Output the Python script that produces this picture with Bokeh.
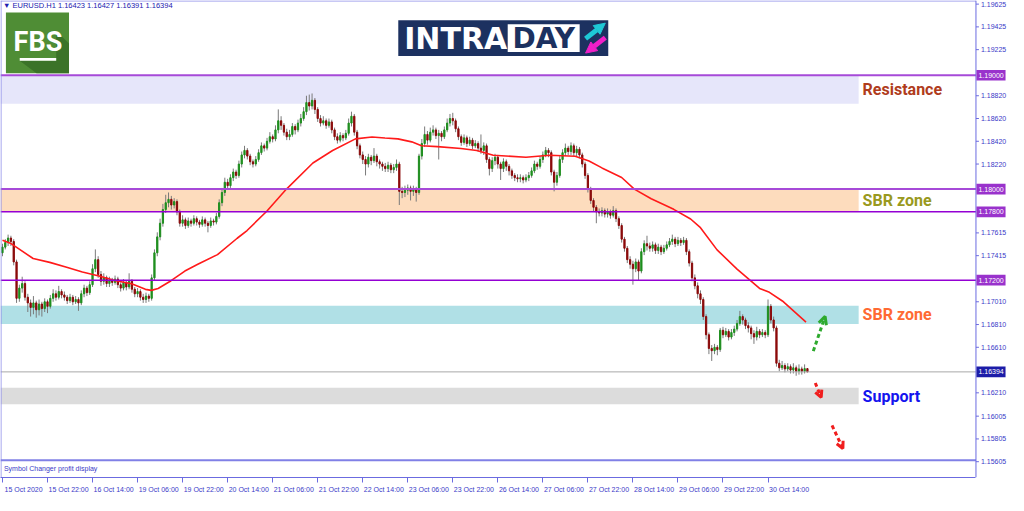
from bokeh.plotting import figure
from bokeh.models import (ColumnDataSource, FixedTicker, Range1d, Label, Arrow, OpenHead, NormalHead)
from bokeh.core.properties import value
from bokeh.embed import file_html
from bokeh.resources import INLINE

# ---------------- data ----------------
symbol = "EURUSD.H1"
header_ohlc = [1.16423, 1.16427, 1.16391, 1.16394]
first_open = 1.1744
close = [
    1.1749, 1.1753, 1.1757, 1.1754, 1.1736, 1.1704, 1.1713, 1.1717, 1.1705, 1.1700,
    1.1696, 1.1700, 1.1694, 1.1699, 1.1695, 1.1701, 1.1697, 1.1704, 1.1708, 1.1705,
    1.1710, 1.1707, 1.1705, 1.1702, 1.1705, 1.1701, 1.1703, 1.1700, 1.1708, 1.1713,
    1.1709, 1.1716, 1.1730, 1.1738, 1.1725, 1.1719, 1.1722, 1.1717, 1.1720, 1.1718,
    1.1721, 1.1716, 1.1713, 1.1718, 1.1714, 1.1719, 1.1712, 1.1708, 1.1710, 1.1705,
    1.1703, 1.1706, 1.1704, 1.1722, 1.1744, 1.1758, 1.1770, 1.1782, 1.1788, 1.1791,
    1.1786, 1.1789, 1.1780, 1.1770, 1.1773, 1.1768, 1.1772, 1.1770, 1.1774, 1.1771,
    1.1769, 1.1773, 1.1770, 1.1768, 1.1772, 1.1771, 1.1776, 1.1788, 1.1797, 1.1806,
    1.1803, 1.1810, 1.1815, 1.1812, 1.1822, 1.1830, 1.1834, 1.1829, 1.1824, 1.1822,
    1.1826, 1.1832, 1.1838, 1.1836, 1.1842, 1.1846, 1.1844, 1.1852, 1.1860, 1.1856,
    1.1850, 1.1846, 1.1848, 1.1855, 1.1852, 1.1858, 1.1862, 1.1868, 1.1876, 1.1873,
    1.1878, 1.1870, 1.1862, 1.1858, 1.1860, 1.1856, 1.1859, 1.1852, 1.1846, 1.1843,
    1.1847, 1.1845, 1.1849, 1.1858, 1.1864, 1.1850, 1.1838, 1.1830, 1.1826, 1.1822,
    1.1828, 1.1825, 1.1829, 1.1824, 1.1822, 1.1820, 1.1818, 1.1821, 1.1817, 1.1819,
    1.1822, 1.1798, 1.1797, 1.1799, 1.1801, 1.1798, 1.1800, 1.1797, 1.1829, 1.1840,
    1.1848, 1.1843, 1.1850, 1.1852, 1.1847, 1.1849, 1.1846, 1.1852, 1.1858, 1.1862,
    1.1860, 1.1853, 1.1846, 1.1841, 1.1845, 1.1840, 1.1843, 1.1838, 1.1840, 1.1836,
    1.1834, 1.1838, 1.1826, 1.1818, 1.1825, 1.1828, 1.1822, 1.1818, 1.1824, 1.1820,
    1.1816, 1.1812, 1.1810, 1.1809, 1.1810, 1.1808, 1.1810, 1.1812, 1.1816, 1.1822,
    1.1820, 1.1826, 1.1830, 1.1834, 1.1832, 1.1815, 1.1806, 1.1812, 1.1826, 1.1832,
    1.1836, 1.1833, 1.1838, 1.1832, 1.1835, 1.1830, 1.1822, 1.1812, 1.1800, 1.1790,
    1.1784, 1.1780, 1.1779, 1.1781, 1.1778, 1.1780, 1.1777, 1.1781, 1.1774, 1.1768,
    1.1756, 1.1748, 1.1738, 1.1734, 1.1730, 1.1736, 1.1728, 1.1745, 1.1752, 1.1750,
    1.1748, 1.1751, 1.1746, 1.1749, 1.1745, 1.1748, 1.1751, 1.1754, 1.1756, 1.1752,
    1.1755, 1.1753, 1.1755, 1.1745, 1.1735, 1.1722, 1.1715, 1.1708, 1.1703, 1.1688,
    1.1672, 1.1660, 1.1658, 1.1661, 1.1659, 1.1676, 1.1672, 1.1675, 1.1670, 1.1674,
    1.1677, 1.1682, 1.1688, 1.1685, 1.1680, 1.1678, 1.1673, 1.1670, 1.1675, 1.1672,
    1.1674, 1.1672, 1.1697, 1.1685, 1.1678, 1.1647, 1.1643, 1.1645, 1.1642, 1.1644,
    1.1641, 1.1643, 1.1640, 1.1642, 1.1640, 1.16423, 1.16394,
]
high = [
    1.1752, 1.1756, 1.1760, 1.1759, 1.1756, 1.1738, 1.1716, 1.1723, 1.1719, 1.1708,
    1.1703, 1.1706, 1.1702, 1.1703, 1.1701, 1.1704, 1.1703, 1.1707, 1.1712, 1.1711,
    1.1715, 1.1712, 1.1710, 1.1707, 1.1708, 1.1707, 1.1706, 1.1705, 1.1711, 1.1716,
    1.1715, 1.1719, 1.1734, 1.1747, 1.1741, 1.1728, 1.1726, 1.1724, 1.1723, 1.1722,
    1.1724, 1.1723, 1.1718, 1.1721, 1.1720, 1.1726, 1.1721, 1.1714, 1.1713, 1.1712,
    1.1708, 1.1709, 1.1708, 1.1725, 1.1747, 1.1762, 1.1774, 1.1787, 1.1795, 1.1797,
    1.1794, 1.1792, 1.1791, 1.1782, 1.1777, 1.1775, 1.1775, 1.1774, 1.1777, 1.1776,
    1.1773, 1.1776, 1.1775, 1.1772, 1.1775, 1.1774, 1.1779, 1.1791, 1.1801, 1.1810,
    1.1809, 1.1813, 1.1818, 1.1817, 1.1825, 1.1833, 1.1838, 1.1836, 1.1831, 1.1826,
    1.1829, 1.1835, 1.1841, 1.1840, 1.1845, 1.1850, 1.1848, 1.1856, 1.1870, 1.1864,
    1.1858, 1.1853, 1.1852, 1.1858, 1.1857, 1.1861, 1.1866, 1.1872, 1.1882, 1.1883,
    1.1884, 1.1880, 1.1872, 1.1865, 1.1864, 1.1862, 1.1862, 1.1861, 1.1854, 1.1849,
    1.1850, 1.1849, 1.1852, 1.1862, 1.1868, 1.1866, 1.1852, 1.1840, 1.1833, 1.1829,
    1.1831, 1.1830, 1.1836, 1.1831, 1.1826, 1.1824, 1.1823, 1.1824, 1.1823, 1.1822,
    1.1826, 1.1824, 1.1802, 1.1803, 1.1804, 1.1803, 1.1803, 1.1802, 1.1831, 1.1844,
    1.1855, 1.1851, 1.1854, 1.1856, 1.1854, 1.1852, 1.1851, 1.1855, 1.1862, 1.1866,
    1.1867, 1.1862, 1.1855, 1.1848, 1.1848, 1.1847, 1.1846, 1.1845, 1.1843, 1.1842,
    1.1848, 1.1841, 1.1840, 1.1828, 1.1828, 1.1831, 1.1830, 1.1824, 1.1827, 1.1826,
    1.1822, 1.1818, 1.1814, 1.1813, 1.1813, 1.1812, 1.1813, 1.1815, 1.1819, 1.1825,
    1.1824, 1.1829, 1.1833, 1.1837, 1.1836, 1.1834, 1.1817, 1.1815, 1.1829, 1.1835,
    1.1840, 1.1838, 1.1841, 1.1840, 1.1838, 1.1837, 1.1832, 1.1824, 1.1814, 1.1802,
    1.1792, 1.1786, 1.1783, 1.1784, 1.1783, 1.1783, 1.1782, 1.1785, 1.1783, 1.1776,
    1.1770, 1.1758, 1.1750, 1.1741, 1.1737, 1.1739, 1.1738, 1.1748, 1.1755, 1.1759,
    1.1753, 1.1754, 1.1753, 1.1752, 1.1751, 1.1751, 1.1754, 1.1757, 1.1760, 1.1758,
    1.1758, 1.1757, 1.1758, 1.1757, 1.1747, 1.1737, 1.1725, 1.1718, 1.1711, 1.1705,
    1.1690, 1.1674, 1.1663, 1.1664, 1.1663, 1.1678, 1.1679, 1.1678, 1.1677, 1.1677,
    1.1680, 1.1685, 1.1693, 1.1690, 1.1687, 1.1683, 1.1680, 1.1676, 1.1679, 1.1677,
    1.1677, 1.1676, 1.1703, 1.1699, 1.1688, 1.1680, 1.1650, 1.1649, 1.1647, 1.1647,
    1.1646, 1.1647, 1.1645, 1.1646, 1.1644, 1.1646, 1.16427,
]
low = [
    1.1741, 1.1747, 1.1750, 1.1750, 1.1733, 1.1700, 1.1701, 1.1709, 1.1702, 1.1692,
    1.1688, 1.1690, 1.1687, 1.1689, 1.1688, 1.1692, 1.1691, 1.1695, 1.1701, 1.1702,
    1.1703, 1.1704, 1.1702, 1.1699, 1.1700, 1.1698, 1.1699, 1.1693, 1.1698, 1.1705,
    1.1706, 1.1707, 1.1714, 1.1727, 1.1722, 1.1715, 1.1716, 1.1714, 1.1714, 1.1715,
    1.1716, 1.1713, 1.1710, 1.1711, 1.1711, 1.1712, 1.1709, 1.1705, 1.1705, 1.1702,
    1.1700, 1.1700, 1.1701, 1.1702, 1.1720, 1.1741, 1.1755, 1.1767, 1.1779, 1.1784,
    1.1782, 1.1783, 1.1777, 1.1767, 1.1767, 1.1765, 1.1766, 1.1767, 1.1768, 1.1768,
    1.1766, 1.1767, 1.1767, 1.1762, 1.1766, 1.1768, 1.1769, 1.1774, 1.1785, 1.1794,
    1.1800, 1.1801, 1.1807, 1.1809, 1.1810, 1.1819, 1.1827, 1.1826, 1.1821, 1.1819,
    1.1820, 1.1824, 1.1830, 1.1833, 1.1834, 1.1840, 1.1841, 1.1842, 1.1849, 1.1852,
    1.1847, 1.1843, 1.1843, 1.1846, 1.1848, 1.1850, 1.1855, 1.1860, 1.1865, 1.1869,
    1.1870, 1.1866, 1.1859, 1.1855, 1.1856, 1.1853, 1.1854, 1.1849, 1.1843, 1.1840,
    1.1841, 1.1842, 1.1843, 1.1847, 1.1855, 1.1847, 1.1835, 1.1827, 1.1822, 1.1812,
    1.1819, 1.1821, 1.1823, 1.1820, 1.1818, 1.1816, 1.1815, 1.1815, 1.1814, 1.1814,
    1.1816, 1.1786, 1.1792, 1.1793, 1.1795, 1.1790, 1.1794, 1.1789, 1.1795, 1.1826,
    1.1837, 1.1839, 1.1841, 1.1847, 1.1844, 1.1826, 1.1842, 1.1844, 1.1850, 1.1855,
    1.1856, 1.1850, 1.1843, 1.1838, 1.1839, 1.1837, 1.1838, 1.1835, 1.1836, 1.1833,
    1.1831, 1.1830, 1.1823, 1.1812, 1.1815, 1.1821, 1.1818, 1.1808, 1.1815, 1.1816,
    1.1812, 1.1809, 1.1807, 1.1806, 1.1806, 1.1805, 1.1806, 1.1807, 1.1810, 1.1814,
    1.1817, 1.1818, 1.1823, 1.1828, 1.1828, 1.1812, 1.1798, 1.1803, 1.1810, 1.1823,
    1.1829, 1.1830, 1.1830, 1.1829, 1.1829, 1.1827, 1.1819, 1.1809, 1.1797, 1.1787,
    1.1780, 1.1770, 1.1776, 1.1776, 1.1775, 1.1775, 1.1774, 1.1775, 1.1771, 1.1765,
    1.1753, 1.1745, 1.1735, 1.1730, 1.1716, 1.1727, 1.1720, 1.1726, 1.1742, 1.1746,
    1.1745, 1.1745, 1.1743, 1.1743, 1.1742, 1.1743, 1.1746, 1.1749, 1.1751, 1.1749,
    1.1750, 1.1750, 1.1751, 1.1742, 1.1732, 1.1719, 1.1712, 1.1704, 1.1699, 1.1685,
    1.1668, 1.1655, 1.1649, 1.1655, 1.1654, 1.1657, 1.1669, 1.1670, 1.1667, 1.1668,
    1.1671, 1.1675, 1.1680, 1.1681, 1.1677, 1.1674, 1.1668, 1.1664, 1.1667, 1.1669,
    1.1670, 1.1669, 1.1670, 1.1682, 1.1675, 1.1644, 1.1640, 1.1641, 1.1639, 1.1640,
    1.1638, 1.1638, 1.1636, 1.1637, 1.1637, 1.1638, 1.16391,
]
# moving average (bar index, price)
ma_bar = [0, 2.8, 10.9, 16.8, 22.8, 28.4, 34.3, 40.3, 45.9, 50.8, 52.9, 55.3, 59.9, 64.8,
          69.4, 76.4, 83.4, 86.9, 93.9, 100.9, 110.3, 117.3, 125.4, 131.3, 135.9, 140.5,
          145.4, 148.9, 154.5, 162.9, 168.5, 174.4, 186.0, 194.4, 203.5, 208.4, 213.0,
          220.0, 224.5, 230.5, 238.5, 244.5, 248.0, 253.9, 261.0, 269.0, 272.5, 277.1, 285.5]
ma_val = [1.17551, 1.17525, 1.17390, 1.17356, 1.17314, 1.17271, 1.17237, 1.17195, 1.17169,
          1.17119, 1.17110, 1.17127, 1.17195, 1.17280, 1.17339, 1.17424, 1.17568, 1.17636,
          1.17805, 1.18000, 1.18229, 1.18339, 1.18441, 1.18458, 1.18449, 1.18441, 1.18415,
          1.18381, 1.18373, 1.18356, 1.18339, 1.18297, 1.18280, 1.18297, 1.18288, 1.18246,
          1.18186, 1.18102, 1.18000, 1.17915, 1.17822, 1.17737, 1.17661, 1.17466, 1.17297,
          1.17127, 1.17093, 1.17017, 1.16831]

time_tick_bars = [0, 16, 32, 48, 64, 80, 96, 112, 128, 144, 160, 176, 192, 208, 224, 240, 256, 272]
time_labels = ["15 Oct 2020", "15 Oct 22:00", "16 Oct 14:00", "19 Oct 06:00", "19 Oct 22:00",
               "20 Oct 14:00", "21 Oct 06:00", "21 Oct 22:00", "22 Oct 14:00", "23 Oct 06:00",
               "23 Oct 22:00", "26 Oct 14:00", "27 Oct 06:00", "27 Oct 22:00", "28 Oct 14:00",
               "29 Oct 06:00", "29 Oct 22:00", "30 Oct 14:00"]
price_ticks = [1.19625, 1.19425, 1.19225, 1.18820, 1.18620, 1.18420, 1.18220, 1.17615,
               1.17415, 1.17010, 1.16810, 1.16610, 1.16210, 1.16005, 1.15805, 1.15605]
level_prices = [1.19000, 1.18000, 1.17800, 1.17200]
last_price = 1.16394
zone_names = ["Resistance", "SBR zone", "SBR zone", "Support"]
zone_low = [1.18750, 1.17800, 1.16814, 1.16110]
zone_high = [1.19000, 1.18000, 1.16975, 1.16254]

# ---------------- styles / layout ----------------
BLUE = "#6b6be0"
TXT = "#3a3ac8"
BULL = "#1f8f1f"
BEAR = "#8b0a0a"
WICK = "#7a7a7a"
FONT = "Liberation Sans"
zone_fill = ["#e6e6fa", "#fddcbd", "#b0e0e6", "#dcdcdc"]
zone_text = ["#b03c1c", "#999920", "#ff6a33", "#1414ee"]
level_color = ["#a64ad8", "#a64ad8", "#9400d3", "#9400d3"]
level_width = [2, 2, 1.5, 1.5]

BAR_PX = 2.855
def bx(px):  # reference pixel column -> bar coordinate
    return (px - 3.5) / BAR_PX
def py(px):  # reference pixel row -> price coordinate
    return 1.19 - (px - 79) / 11800.0
HALF_BOX = 5.5 / 11800.0   # half height of an axis price box

X0, X1 = bx(1.5), bx(1024)
Y0, Y1 = py(496), py(1.5)
AX = bx(991)          # price-axis line
ZR = bx(872)          # right end of the shaded zones

p = figure(width=1008, height=495, x_range=Range1d(X0, X1), y_range=Range1d(Y0, Y1),
           output_backend="svg", toolbar_location=None,
           min_border_left=0, min_border_top=0, min_border_right=0, min_border_bottom=14,
           background_fill_color="white", border_fill_color="white")
p.grid.visible = False
p.outline_line_color = None
p.yaxis.visible = False

# bottom time axis: tick marks as minor ticks, labels to their right
SHIFT = 7.5
xa = p.xaxis[0]
xa.bounds = (X0, AX)
xa.ticker = FixedTicker(ticks=[b + SHIFT for b in time_tick_bars], minor_ticks=time_tick_bars)
xa.major_label_overrides = {b + SHIFT: t for b, t in zip(time_tick_bars, time_labels)}
xa.axis_line_color = BLUE
xa.major_tick_line_color = None
xa.minor_tick_line_color = BLUE
xa.minor_tick_out = 5
xa.minor_tick_in = 0
xa.major_label_standoff = 2
xa.major_label_text_font = FONT
xa.major_label_text_font_size = "7px"
xa.major_label_text_color = TXT

# zones
p.quad(left=[X0] * 4, right=[ZR] * 4, bottom=zone_low, top=zone_high,
       fill_color=zone_fill, line_color=None)

# candles
opens = [first_open] + close[:-1]
bars = list(range(len(close)))
src = ColumnDataSource(dict(
    x=bars, h=high, l=low,
    top=[max(o, c) for o, c in zip(opens, close)],
    bot=[min(o, c) for o, c in zip(opens, close)],
    col=[BULL if c >= o else BEAR for o, c in zip(opens, close)],
))
p.segment(x0="x", y0="h", x1="x", y1="l", source=src, line_color=WICK, line_width=1)
p.vbar(x="x", width=0.45, top="top", bottom="bot", fill_color="col", line_color="col",
       line_width=1, source=src)

# moving average
p.line(ma_bar, ma_val, line_color="#ff1a1a", line_width=1.6)

# horizontal levels (up to the price axis)
nl = len(level_prices)
p.segment(x0=[X0] * nl, x1=[AX] * nl, y0=level_prices, y1=level_prices,
          line_color=level_color, line_width=level_width)
p.segment(x0=[X0], x1=[AX], y0=[last_price], y1=[last_price], line_color="#a8a8a8", line_width=1)

# window frame: left / top border, main-window bottom, sub-window
p.segment(x0=[bx(2), X0, X0], x1=[bx(2), AX, AX], y0=[Y0, py(2), py(478)],
          y1=[Y1, py(2), py(478)], line_color=["#8a8ae8", "#8a8ae8", "#8080e6"],
          line_width=[1, 1, 2])

# price axis drawn on the right
nt = len(price_ticks)
p.segment(x0=[AX], x1=[AX], y0=[Y0], y1=[Y1], line_color=BLUE, line_width=1)
p.segment(x0=[AX] * nt, x1=[bx(994)] * nt, y0=price_ticks, y1=price_ticks, line_color=BLUE)
p.text(x=[bx(996)] * nt, y=price_ticks, text=[f"{v:.5f}" for v in price_ticks],
       text_font=value(FONT), text_font_size="7px", text_baseline="middle",
       text_align="left", text_color=TXT)

# price boxes on the axis
box_prices = level_prices + [last_price]
box_colors = ["#9932cc"] * nl + ["#1c1ca8"]
nb = len(box_prices)
p.quad(left=[bx(991.5)] * nb, right=[bx(1021)] * nb,
       bottom=[v - HALF_BOX for v in box_prices], top=[v + HALF_BOX for v in box_prices],
       fill_color=box_colors, line_color=None)
p.text(x=[bx(993.5)] * nb, y=box_prices, text=[f"{v:.5f}" for v in box_prices],
       text_font=value(FONT), text_font_size="7px", text_baseline="middle",
       text_align="left", text_color="white")

# zone names
for name, lo, hi, col in zip(zone_names, zone_low, zone_high, zone_text):
    p.add_layout(Label(x=bx(876), y=(lo + hi) / 2, text=name, text_align="left",
                       text_baseline="middle", text_color=col, text_font="Roboto",
                       text_font_style="bold", text_font_size="16px"))

# scenario arrows
p.add_layout(Arrow(x_start=bx(826), y_start=py(365), x_end=bx(838), y_end=py(329),
                   line_color="#2eaa2e", line_width=3, line_dash="4 3",
                   end=OpenHead(size=8, line_color="#2eaa2e", line_width=3)))
p.add_layout(Arrow(x_start=bx(828), y_start=py(398), x_end=bx(834), y_end=py(413),
                   line_color="#f01e1e", line_width=3, line_dash="4 3",
                   end=OpenHead(size=7, line_color="#f01e1e", line_width=3)))
p.add_layout(Arrow(x_start=bx(845), y_start=py(442), x_end=bx(856), y_end=py(466),
                   line_color="#f01e1e", line_width=3, line_dash="4 3",
                   end=OpenHead(size=7, line_color="#f01e1e", line_width=3)))

# sub-window caption
p.add_layout(Label(x=bx(5), y=py(487), text="Symbol Changer profit display", text_align="left",
                   text_baseline="middle", text_color=TXT, text_font=FONT, text_font_size="7px"))

# header
hdr = " ".join(f"{v:.5f}" for v in header_ohlc)
p.add_layout(Label(x=bx(4), y=py(7), text=f"\u25bc {symbol}  {hdr}",
                   text_align="left", text_baseline="middle", text_color="#2020b0",
                   text_font=FONT, text_font_size="7.5px"))

# FBS logo
p.quad(left=[bx(7)], right=[bx(71)], bottom=[py(77)], top=[py(14)],
       fill_color="#4f8d35", line_color=None)
p.patch([bx(58), bx(71), bx(71), bx(38), bx(21), bx(58)],
        [py(33), py(46), py(77), py(77), py(64), py(64)], fill_color="#3b7328", line_color=None)
p.quad(left=[bx(21)], right=[bx(58)], bottom=[py(64)], top=[py(61)],
       fill_color="white", line_color=None)
p.add_layout(Label(x=bx(39.5), y=py(45), text="FBS", text_align="center", text_baseline="middle",
                   text_color="white", text_font="Roboto", text_font_style="bold",
                   text_font_size="27px"))

# INTRADAY logo
p.quad(left=[bx(405)], right=[bx(618)], bottom=[py(59)], top=[py(22)],
       fill_color="#1c3160", line_color=None)
p.quad(left=[bx(516)], right=[bx(589)], bottom=[py(55)], top=[py(26)],
       fill_color="white", line_color=None)
p.add_layout(Label(x=bx(411), y=py(41), text="INTRA", text_align="left", text_baseline="middle",
                   text_color="white", text_font="DejaVu Sans", text_font_style="bold",
                   text_font_size="30px"))
p.add_layout(Label(x=bx(552.5), y=py(41), text="DAY", text_align="center", text_baseline="middle",
                   text_color="#1c3160", text_font="DejaVu Sans", text_font_style="bold",
                   text_font_size="28px"))
p.add_layout(Arrow(x_start=bx(595), y_start=py(41), x_end=bx(615), y_end=py(25),
                   line_color="#1ec8d6", line_width=5,
                   end=NormalHead(size=11, fill_color="#1ec8d6", line_color="#1ec8d6")))
p.add_layout(Arrow(x_start=bx(615), y_start=py(40), x_end=bx(595), y_end=py(56),
                   line_color="#f01fc8", line_width=5,
                   end=NormalHead(size=11, fill_color="#f01fc8", line_color="#f01fc8")))

open("out.html", "w").write(file_html(p, INLINE))
